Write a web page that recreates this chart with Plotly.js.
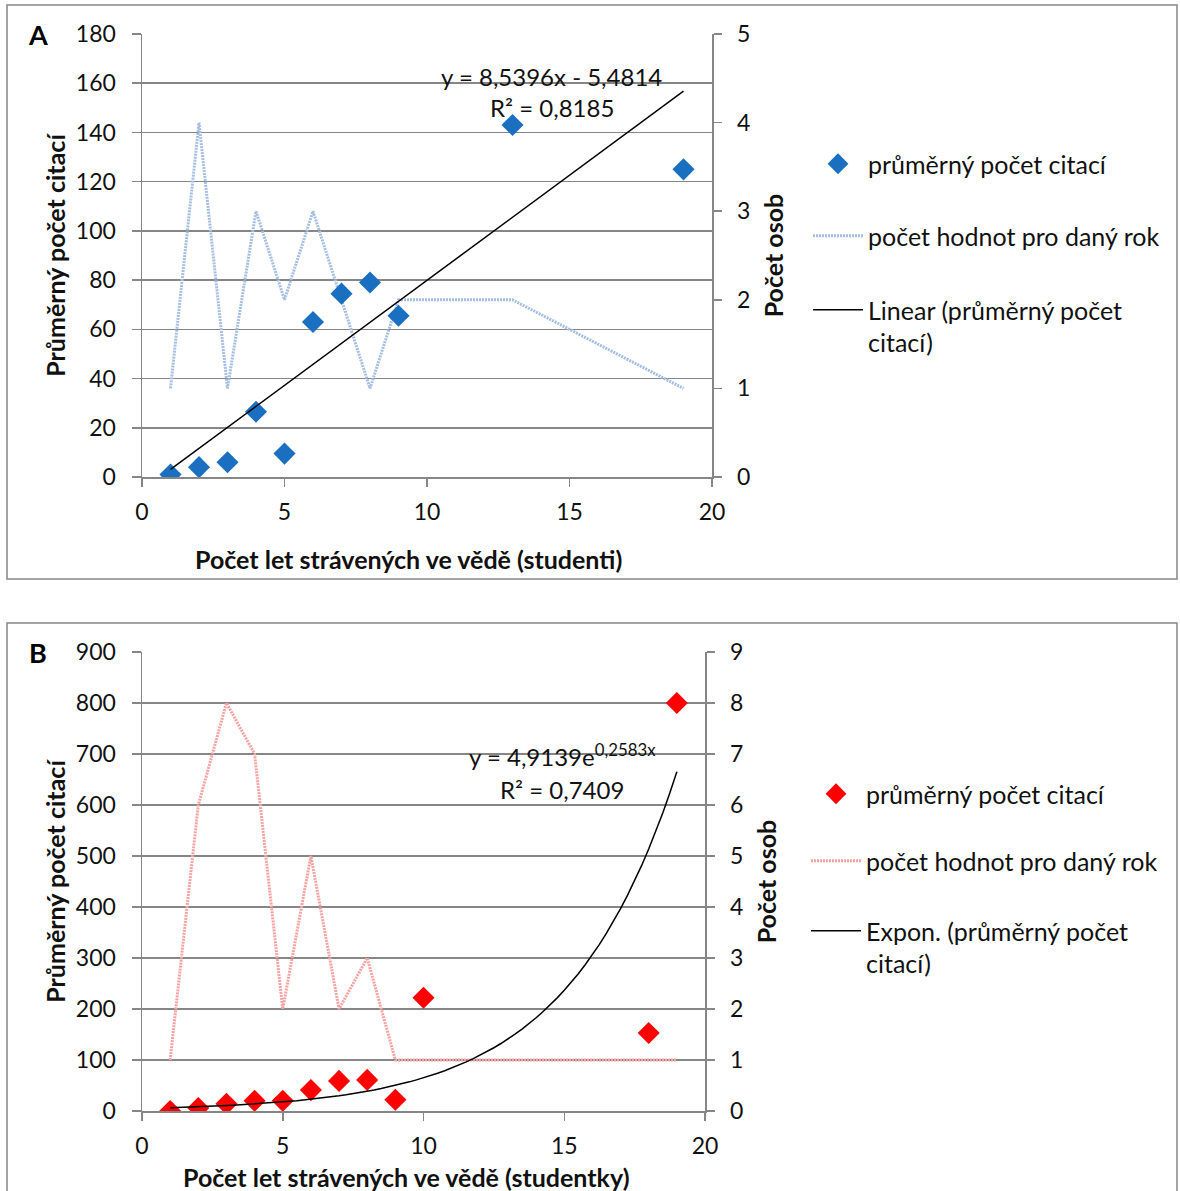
<!DOCTYPE html>
<html>
<head>
<meta charset="utf-8">
<script src="https://cdn.plot.ly/plotly-3.0.1.min.js"></script>
<style>html,body{margin:0;padding:0;background:#fff}#chart{width:1180px;height:1191px}</style>
</head>
<body>
<div id="chart"></div>
<script>
// ---- Panel A (studenti) ----
const xA = [1, 2, 3, 4, 5, 6, 7, 8, 9, 13, 19];
const citA = [1, 4, 6, 26.5, 9.5, 63, 74.5, 79, 65.5, 143, 125];
const countA = [1, 4, 1, 3, 2, 3, 2, 1, 2, 2, 1];
const linA = {slope: 8.5396, intercept: -5.4814, r2: "0,8185"};

// ---- Panel B (studentky) ----
const xB = [1, 2, 3, 4, 5, 6, 7, 8, 9, 10, 18, 19];
const citB = [0, 6, 14, 20, 20, 41, 59, 61, 22, 222, 153, 800];
const countB = [1, 6, 8, 7, 2, 5, 2, 3, 1, 1, 1, 1];
const expB = {a: 4.9139, b: 0.2583, r2: "0,7409"};

const seriesName = "průměrný počet citací";
const countName = "počet hodnot pro daný rok";
const xTitleA = "Počet let strávených ve vědě (studenti)";
const xTitleB = "Počet let strávených ve vědě (studentky)";
const yTitleLeft = "Průměrný počet citací";
const yTitleRight = "Počet osob";

// trend lines from the fitted equations
const linX = [Math.min(...xA), Math.max(...xA)];
const linY = linX.map(x => linA.slope * x + linA.intercept);
const expX = [];
for (let x = Math.min(...xB); x <= Math.max(...xB) + 1e-9; x += 0.25) expX.push(x);
const expY = expX.map(x => expB.a * Math.exp(expB.b * x));

const W = 1180, H = 1191;
const px = v => v / W;
const py = v => 1 - v / H;

const FONT = "Lato, 'Open Sans', sans-serif";
const gray = "#868686";

const data = [
  {x: xA, y: countA, xaxis: "x", yaxis: "y", mode: "lines", name: countName,
   line: {color: "#a4bfe3", width: 3, dash: "2px,1px"}, legend: "legend2"},
  {x: xA, y: citA, xaxis: "x", yaxis: "y2", mode: "markers", name: seriesName,
   marker: {symbol: "diamond", color: "#1a6fc1", size: 17}, legend: "legend"},
  {x: linX, y: linY, xaxis: "x", yaxis: "y2", mode: "lines", name: "Linear (průměrný počet<br>citací)",
   line: {color: "#000", width: 1.5}, legend: "legend3"},

  {x: xB, y: countB, xaxis: "x2", yaxis: "y3", mode: "lines", name: countName,
   line: {color: "#f7a3a3", width: 3, dash: "2px,1px"}, legend: "legend5"},
  {x: xB, y: citB, xaxis: "x2", yaxis: "y4", mode: "markers", name: seriesName,
   marker: {symbol: "diamond", color: "#ff0000", size: 17}, legend: "legend4"},
  {x: expX, y: expY, xaxis: "x2", yaxis: "y4", mode: "lines", name: "Expon. (průměrný počet<br>citací)",
   line: {color: "#000", width: 1.5}, legend: "legend6"}
];

const tickFont = {family: FONT, size: 23, color: "#111"};
const titleFont = {family: FONT, size: 25, color: "#111", weight: 700};

function xax(domain, anchor) {
  return {domain: domain, anchor: anchor, range: [0, 20], dtick: 5, tick0: 0,
    showline: true, linecolor: gray, linewidth: 1.5, ticks: "outside", ticklen: 8,
    tickcolor: gray, tickwidth: 1.5, showgrid: false, zeroline: false,
    tickfont: tickFont, ticklabelstandoff: 6};
}
function yLeft(domain, anchor, over, range, dtick) {
  return {domain: domain, anchor: anchor, overlaying: over, side: "left", range: range, dtick: dtick,
    showline: true, linecolor: gray, linewidth: 1.5, ticks: "outside", ticklen: 9,
    tickcolor: gray, tickwidth: 1.5, showgrid: true, gridcolor: gray, gridwidth: 1.5,
    zeroline: false, tickfont: tickFont, ticklabelstandoff: 11,
    title: {text: yTitleLeft, font: titleFont, standoff: 3}};
}
function yRight(domain, anchor, range, standoff) {
  return {domain: domain, anchor: anchor, side: "right", range: range, dtick: 1,
    showline: true, linecolor: gray, linewidth: 1.5, ticks: "outside", ticklen: 8,
    tickcolor: gray, tickwidth: 1.5, showgrid: false, zeroline: false,
    tickfont: tickFont, ticklabelstandoff: 11,
    title: {text: yTitleRight, font: titleFont, standoff: standoff}};
}

const domAy = [py(477), py(34)];
const domBy = [py(1111), py(652)];

function leg(xp, yp) {
  return {x: px(xp), xanchor: "left", y: py(yp), yanchor: "top", valign: "top",
    font: {family: FONT, size: 25, color: "#111"}, bgcolor: "rgba(0,0,0,0)",
    borderwidth: 0, itemwidth: 50, tracegroupgap: 0};
}

function note(text, x, y, size, extra) {
  return Object.assign({text: text, xref: "paper", yref: "paper", x: px(x), y: py(y),
    xanchor: "center", yanchor: "middle", showarrow: false,
    font: {family: FONT, size: size, color: "#111"}}, extra || {});
}

const layout = {
  width: W, height: H, margin: {l: 0, r: 0, t: 0, b: 0},
  paper_bgcolor: "#fff", plot_bgcolor: "rgba(0,0,0,0)",
  font: {family: FONT, size: 23, color: "#111"},
  showlegend: true,
  xaxis: xax([px(142), px(712)], "y"),
  yaxis: yRight(domAy, "x", [0, 5], 16),
  yaxis2: yLeft(domAy, "x", "y", [0, 180], 20),
  xaxis2: xax([px(142), px(705)], "y3"),
  yaxis3: yRight(domBy, "x2", [0, 9], 16),
  yaxis4: yLeft(domBy, "x2", "y3", [0, 900], 100),
  legend: leg(808, 141),
  legend2: leg(808, 213),
  legend3: leg(808, 287),
  legend4: leg(806, 771),
  legend5: leg(806, 838),
  legend6: leg(806, 908),
  shapes: [
    {type: "rect", xref: "paper", yref: "paper", x0: px(7), x1: px(1177), y0: py(579), y1: py(5),
     line: {color: gray, width: 1.5}, fillcolor: "rgba(0,0,0,0)", layer: "below"},
    {type: "rect", xref: "paper", yref: "paper", x0: px(7), x1: px(1177), y0: py(1200), y1: py(623),
     line: {color: gray, width: 1.5}, fillcolor: "rgba(0,0,0,0)", layer: "below"}
  ],
  annotations: [
    note("<b>A</b>", 38, 34, 27, {font: {family: FONT, size: 27, color: "#000"}}),
    note("<b>B</b>", 38, 652, 27, {font: {family: FONT, size: 27, color: "#000"}}),
    note(xTitleA, 408, 559, 25, {font: titleFont}),
    note(xTitleB, 406, 1177, 25, {font: titleFont}),
    note("y = 8,5396x - 5,4814", 551, 76, 24),
    note("R² = " + linA.r2, 552, 108, 24),
    note("y = 4,9139e<sup>0,2583x</sup>", 562, 755, 24),
    note("R² = " + expB.r2, 562, 789, 24)
  ]
};

Plotly.newPlot("chart", data, layout, {displayModeBar: false, staticPlot: true});
</script>
</body>
</html>
